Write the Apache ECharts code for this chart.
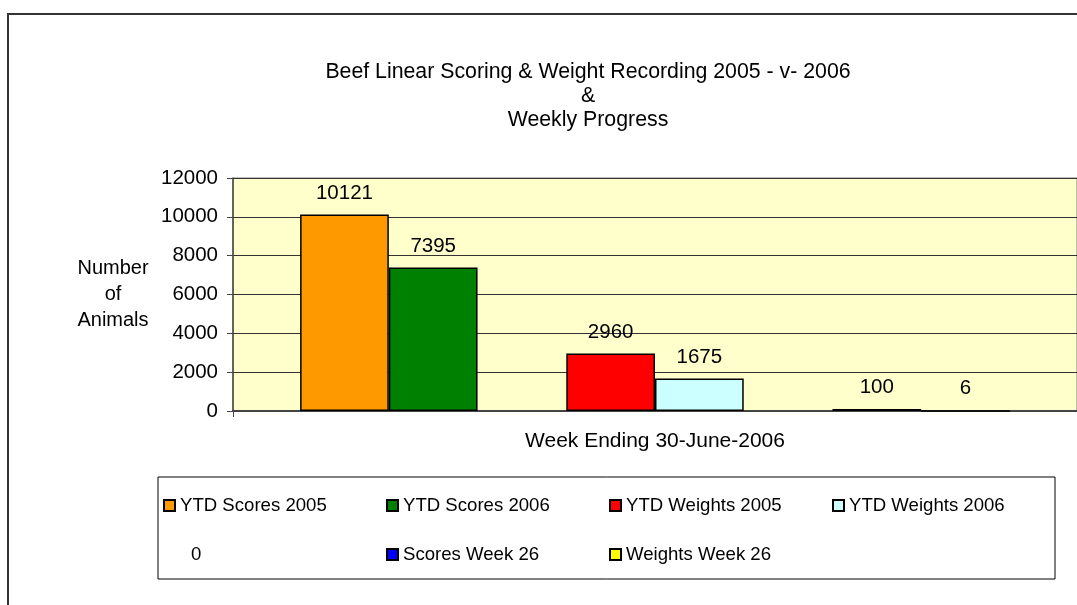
<!DOCTYPE html>
<html>
<head>
<meta charset="utf-8">
<script src="https://cdn.jsdelivr.net/npm/echarts@6/dist/echarts.min.js"></script>
<style>
  html, body { margin: 0; padding: 0; background: #fff; }
  #chart { width: 1077px; height: 605px; }
</style>
</head>
<body>
<div id="chart"></div>
<script>
// chart data
const categories = ['Week Ending 30-June-2006']
const seriesNames = ['YTD Scores 2005', 'YTD Scores 2006', '', 'YTD Weights 2005', 'YTD Weights 2006', '0', 'Scores Week 26', 'Weights Week 26']
const seriesValues = [[10121], [7395], [null], [2960], [1675], [null], [100], [6]]
const seriesColors = ['#FF9900', '#008000', '#FFFFFF', '#FF0000', '#CCFFFF', '#FFFFFF', '#0000FF', '#FFFF00']
const yTicks = { min: 0, max: 12000, interval: 2000 }

const font = 'Liberation Sans, Arial, sans-serif'
const chart = echarts.init(document.getElementById('chart'))

const series = seriesNames.map((name, i) => ({
  name: name,
  type: 'bar',
  data: seriesValues[i],
  barGap: '0%',
  barCategoryGap: '15.9%',
  itemStyle: {
    color: seriesColors[i],
    borderColor: '#000',
    borderWidth: 1.5
  },
  label: {
    show: true,
    position: 'top',
    distance: 11,
    color: '#000',
    fontFamily: font,
    fontSize: 20.5
  }
}))

// "0" entry has no marker in the original legend
const legendData = seriesNames.filter(n => n !== '').map(n => {
  if (n === '0') {
    return { name: n, icon: 'none', textStyle: { padding: [0, 0, 0, 11], width: 195 } }
  }
  return { name: n }
})

chart.setOption({
  animation: false,
  title: {
    text: 'Beef Linear Scoring & Weight Recording 2005 - v- 2006\n&\nWeekly Progress',
    left: 588,
    top: 60,
    padding: 0,
    textAlign: 'center',
    textStyle: {
      fontFamily: font,
      fontSize: 21.3,
      fontWeight: 'normal',
      color: '#000',
      lineHeight: 24
    }
  },
  graphic: [{
    type: 'rect',
    shape: { x: 8, y: 14, width: 1200, height: 700 },
    style: { fill: 'none', stroke: '#333', lineWidth: 2 },
    silent: true
  }],
  legend: {
    data: legendData,
    left: 158,
    top: 477,
    width: 900,
    padding: [4, 0, 0, 5],
    itemGap: 0,
    itemWidth: 11,
    itemHeight: 11,
    icon: 'rect',
    borderColor: '#000',
    borderWidth: 1,
    textStyle: {
      fontFamily: font,
      fontSize: 18.6,
      color: '#000',
      width: 206,
      lineHeight: 49
    }
  },
  grid: {
    left: 233,
    right: -12,
    top: 178,
    bottom: 194,
    show: true,
    backgroundColor: '#FFFFCC',
    borderColor: '#808080',
    borderWidth: 1
  },
  xAxis: {
    type: 'category',
    data: categories,
    axisLine: { lineStyle: { color: '#444', width: 2 } },
    axisTick: { show: true, length: 6, lineStyle: { color: '#444' } },
    axisLabel: { margin: 20, color: '#000', fontFamily: font, fontSize: 21 }
  },
  yAxis: {
    type: 'value',
    min: yTicks.min,
    max: yTicks.max,
    interval: yTicks.interval,
    name: 'Number\nof\nAnimals',
    nameLocation: 'middle',
    nameRotate: 0,
    nameGap: 120,
    nameTextStyle: { fontFamily: font, fontSize: 20, color: '#000', lineHeight: 26, align: 'center' },
    axisLine: { show: true, lineStyle: { color: '#444', width: 1.5 } },
    axisTick: { show: true, length: 6, lineStyle: { color: '#444' } },
    axisLabel: { margin: 15, color: '#000', fontFamily: font, fontSize: 20.5, formatter: v => String(v) },
    splitLine: { lineStyle: { color: '#333', width: 1 } }
  },
  series: series
})
</script>
</body>
</html>
